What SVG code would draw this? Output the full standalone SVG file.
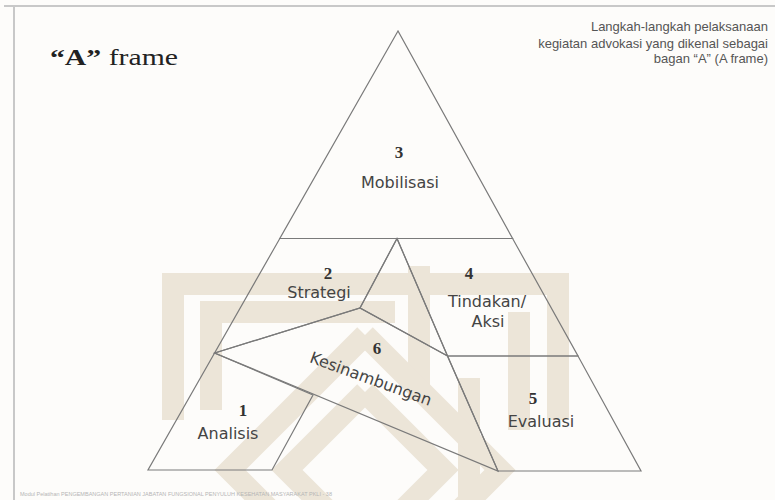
<svg xmlns="http://www.w3.org/2000/svg" width="775" height="500" viewBox="0 0 775 500">
<style>
.wm{fill:none;stroke:#ece5d8;stroke-width:22;stroke-linejoin:miter}
.reg{fill:none;stroke:#7a7a7a;stroke-width:1.2;stroke-linejoin:miter}
.num{font-family:"Liberation Serif","Times New Roman",serif;font-weight:bold;font-size:17px;fill:#333;text-anchor:middle}
.lbl{font-family:"DejaVu Sans","Open Sans",sans-serif;font-size:16px;fill:#444;text-anchor:middle}
.note{font-family:"Liberation Sans",Arial,sans-serif;font-size:13px;fill:#555;text-anchor:end}
</style>
<rect width="775" height="500" fill="#fdfcfa"/>
<g id="frame" fill="none" stroke="#c8c8c8" stroke-width="2">
<line x1="4" y1="6" x2="775" y2="6"/>
<line x1="14" y1="6" x2="14" y2="500"/>
</g>
<g id="watermark">
<path class="wm" d="M173,420 V284 H558 V420"/>
<path class="wm" d="M211,410 V312 H395"/>
<path class="wm" d="M419,266 V400"/>
<path class="wm" d="M519,312 V430"/>
<path class="wm" d="M469,378 V500"/>
<path class="wm" d="M365,335 L500,470 L430,540 M300,540 L230,470 L365,335"/>
<path class="wm" d="M365,392 L443,470 L380,533 M350,533 L287,470 L365,392"/>
</g>
<text x="50" y="65" font-family="'Liberation Serif','Times New Roman',serif" font-size="23" fill="#222" textLength="128" lengthAdjust="spacingAndGlyphs"><tspan font-weight="bold">“A”</tspan> frame</text>
<g id="note">
<text class="note" x="768" y="31">Langkah-langkah pelaksanaan</text>
<text class="note" x="768" y="47.5">kegiatan advokasi yang dikenal sebagai</text>
<text class="note" x="768" y="63">bagan “A” (A frame)</text>
</g>
<g id="node-3">
<polygon class="reg" points="398,31 279.8,238.5 512.6,238.5"/>
<text class="num" x="399" y="158">3</text>
<text class="lbl" x="400" y="188">Mobilisasi</text>
</g>
<g id="node-2">
<polygon class="reg" points="279.8,238.5 397,238.5 360,308 214.6,353"/>
<text class="num" x="328" y="279">2</text>
<text class="lbl" x="319" y="298">Strategi</text>
</g>
<g id="node-inner">
<polygon class="reg" points="397,238.5 360,308 447.5,356"/>
</g>
<g id="node-6">
<polygon class="reg" points="214.6,353 360,308 447.5,356 498,471"/>
<text class="num" x="377" y="354">6</text>
<text class="lbl" x="369" y="384" transform="rotate(20 369 384)">Kesinambungan</text>
</g>
<g id="node-1">
<polygon class="reg" points="214.6,353 313,395 272,470 148,470"/>
<text class="num" x="243" y="416">1</text>
<text class="lbl" x="228" y="439">Analisis</text>
</g>
<g id="node-4">
<polygon class="reg" points="397,238.5 512.6,238.5 578,356 447.5,356"/>
<text class="num" x="469" y="279">4</text>
<text class="lbl" x="487" y="307">Tindakan/</text>
<text class="lbl" x="488" y="327">Aksi</text>
</g>
<g id="node-5">
<polygon class="reg" points="447.5,356 578,356 641,471 498,471"/>
<text class="num" x="533" y="404">5</text>
<text class="lbl" x="541" y="427">Evaluasi</text>
</g>
<g id="connectors"></g>
<text x="20" y="496" font-family="'Liberation Sans',Arial,sans-serif" font-size="5" fill="#b5b5b5" textLength="312" lengthAdjust="spacingAndGlyphs">Modul Pelatihan PENGEMBANGAN PERTANIAN JABATAN FUNGSIONAL PENYULUH KESEHATAN MASYARAKAT PKLI - 38</text>
</svg>
